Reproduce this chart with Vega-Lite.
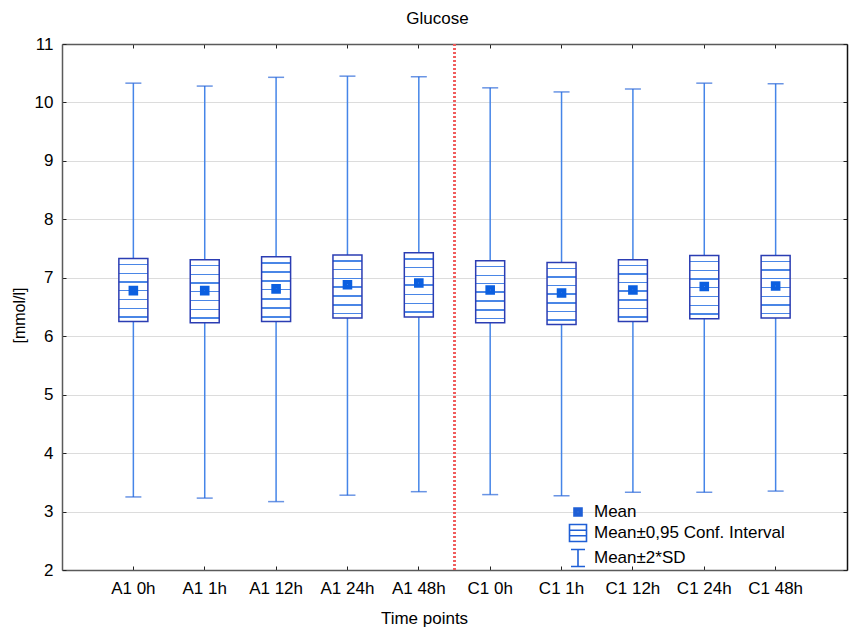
{
  "$schema": "https://vega.github.io/schema/vega-lite/v6.json",
  "autosize": "none",
  "width": 785,
  "height": 526,
  "padding": {"left": 62, "top": 44, "right": 9, "bottom": 60},
  "background": "white",
  "title": {"text": "Glucose", "font": "Liberation Sans", "fontSize": 17, "fontWeight": "normal", "color": "#000", "frame": "group", "anchor": "middle", "dx": -17, "offset": 7},
  "config": {
    "view": {"stroke": null},
    "axis": {"labelFont": "Liberation Sans", "labelFontSize": 17, "labelColor": "#000", "titleFont": "Liberation Sans", "titleFontSize": 17, "titleFontWeight": "normal", "titleColor": "#000", "domainColor": "#5a5a5a", "domainWidth": 1.5, "tickColor": "#222", "tickSize": -4, "tickWidth": 1, "gridColor": "#dcdcdc", "gridWidth": 1},
    "legend": {"labelFont": "Liberation Sans", "labelFontSize": 17, "labelColor": "#000", "labelLimit": 0}
  },
  "data": {"values": [
    {"t": "A1 0h", "mean": 6.78, "cil": 6.25, "cih": 7.33, "sdl": 3.25, "sdh": 10.33},
    {"t": "A1 1h", "mean": 6.78, "cil": 6.23, "cih": 7.31, "sdl": 3.23, "sdh": 10.28},
    {"t": "A1 12h", "mean": 6.81, "cil": 6.25, "cih": 7.36, "sdl": 3.17, "sdh": 10.43},
    {"t": "A1 24h", "mean": 6.88, "cil": 6.31, "cih": 7.39, "sdl": 3.28, "sdh": 10.45},
    {"t": "A1 48h", "mean": 6.91, "cil": 6.33, "cih": 7.43, "sdl": 3.34, "sdh": 10.44},
    {"t": "C1 0h", "mean": 6.79, "cil": 6.23, "cih": 7.29, "sdl": 3.29, "sdh": 10.25},
    {"t": "C1 1h", "mean": 6.74, "cil": 6.20, "cih": 7.26, "sdl": 3.27, "sdh": 10.18},
    {"t": "C1 12h", "mean": 6.79, "cil": 6.25, "cih": 7.31, "sdl": 3.33, "sdh": 10.23},
    {"t": "C1 24h", "mean": 6.85, "cil": 6.30, "cih": 7.38, "sdl": 3.33, "sdh": 10.33},
    {"t": "C1 48h", "mean": 6.86, "cil": 6.31, "cih": 7.38, "sdl": 3.35, "sdh": 10.32}
  ]},
  "resolve": {"axis": {"x": "independent", "y": "independent"}},
  "layer": [
    {
      "mark": {"type": "rule", "color": "#4585e8", "strokeWidth": 1.5},
      "encoding": {
        "x": {"field": "t", "type": "nominal", "sort": null,
              "scale": {"type": "band", "paddingInner": 0, "paddingOuter": 0.5},
              "axis": {"orient": "bottom", "title": "Time points", "labelAngle": 0, "labelPadding": 14, "titleX": 362, "titleY": 40, "titleBaseline": "top", "titleAnchor": null}},
        "y": {"field": "sdl", "type": "quantitative",
              "scale": {"domain": [2, 11], "nice": false, "zero": false},
              "axis": {"orient": "left", "title": "[mmol/l]", "values": [2,3,4,5,6,7,8,9,10,11], "grid": true, "labelPadding": 13, "titleFontSize": 16, "titleX": -35, "titleY": 271, "titleAngle": 270, "titleAlign": "center", "titleBaseline": "bottom"}},
        "y2": {"field": "sdh"}
      }
    },
    {
      "mark": {"type": "tick", "color": "#2a66d8", "size": 16, "thickness": 1.5},
      "encoding": {
        "x": {"field": "t", "type": "nominal", "sort": null, "axis": {"orient": "top", "title": null, "labels": false, "grid": false}},
        "y": {"field": "sdh", "type": "quantitative", "axis": {"orient": "right", "title": null, "labels": false, "grid": false, "domainColor": "#111", "values": [2,3,4,5,6,7,8,9,10,11]}}
      }
    },
    {
      "mark": {"type": "tick", "color": "#2a66d8", "size": 16, "thickness": 1.5},
      "encoding": {
        "x": {"field": "t", "type": "nominal", "sort": null, "axis": null},
        "y": {"field": "sdl", "type": "quantitative", "axis": null}
      }
    },
    {
      "mark": {"type": "bar", "width": 29, "stroke": "#2b3db3", "strokeWidth": 1.5,
        "fill": {"gradient": "linear", "x1": 0, "y1": 0, "x2": 0, "y2": 1, "stops": [
          {"offset": 0, "color": "#ffffff"},
          {"offset": 0.085, "color": "#ffffff"}, {"offset": 0.085, "color": "#4a86e6"}, {"offset": 0.107, "color": "#4a86e6"}, {"offset": 0.107, "color": "#ffffff"},
          {"offset": 0.222, "color": "#ffffff"}, {"offset": 0.222, "color": "#4a86e6"}, {"offset": 0.244, "color": "#4a86e6"}, {"offset": 0.244, "color": "#ffffff"},
          {"offset": 0.36, "color": "#ffffff"}, {"offset": 0.36, "color": "#4a86e6"}, {"offset": 0.382, "color": "#4a86e6"}, {"offset": 0.382, "color": "#ffffff"},
          {"offset": 0.495, "color": "#ffffff"}, {"offset": 0.495, "color": "#4a86e6"}, {"offset": 0.517, "color": "#4a86e6"}, {"offset": 0.517, "color": "#ffffff"},
          {"offset": 0.64, "color": "#ffffff"}, {"offset": 0.64, "color": "#4a86e6"}, {"offset": 0.662, "color": "#4a86e6"}, {"offset": 0.662, "color": "#ffffff"},
          {"offset": 0.78, "color": "#ffffff"}, {"offset": 0.78, "color": "#4a86e6"}, {"offset": 0.802, "color": "#4a86e6"}, {"offset": 0.802, "color": "#ffffff"},
          {"offset": 0.915, "color": "#ffffff"}, {"offset": 0.915, "color": "#4a86e6"}, {"offset": 0.937, "color": "#4a86e6"}, {"offset": 0.937, "color": "#ffffff"},
          {"offset": 1, "color": "#ffffff"}
        ]}},
      "encoding": {
        "x": {"field": "t", "type": "nominal", "sort": null, "axis": null},
        "y": {"field": "cil", "type": "quantitative", "axis": null},
        "y2": {"field": "cih"}
      }
    },
    {
      "mark": {"type": "point", "filled": false, "color": "#0b5fe0", "strokeWidth": 1.6, "size": 400, "opacity": 1},
      "encoding": {
        "x": {"field": "t", "type": "nominal", "sort": null, "axis": null},
        "y": {"field": "mean", "type": "quantitative", "axis": null},
        "shape": {"datum": "Mean",
          "scale": {"domain": ["Mean", "Mean±0,95 Conf. Interval", "Mean±2*SD"],
                    "range": ["M-0.4,-0.4H0.4V0.4H-0.4Z M-0.25,-0.25H0.25V0.25H-0.25Z M-0.1,-0.1H0.1V0.1H-0.1Z",
                              "M-0.85,-0.85H0.85V0.85H-0.85Z M-0.85,-0.28H0.85 M-0.85,0.28H0.85",
                              "M-0.7,-0.85H0.7 M0,-0.85V0.85 M-0.7,0.85H0.7"]},
          "legend": {"title": null, "orient": "none", "legendX": 505, "legendY": 457, "padding": 0, "symbolSize": 400, "rowPadding": 1, "labelOffset": 5, "symbolStrokeWidth": 1.6, "symbolStrokeColor": "#1f5fd6", "symbolFillColor": "transparent"}}
      }
    },
    {
      "mark": {"type": "rule", "color": "#f05a5a", "strokeWidth": 1.5, "strokeDash": [2, 2]},
      "encoding": {
        "x": {"datum": "C1 0h", "bandPosition": 0, "axis": null}
      }
    }
  ]
}
